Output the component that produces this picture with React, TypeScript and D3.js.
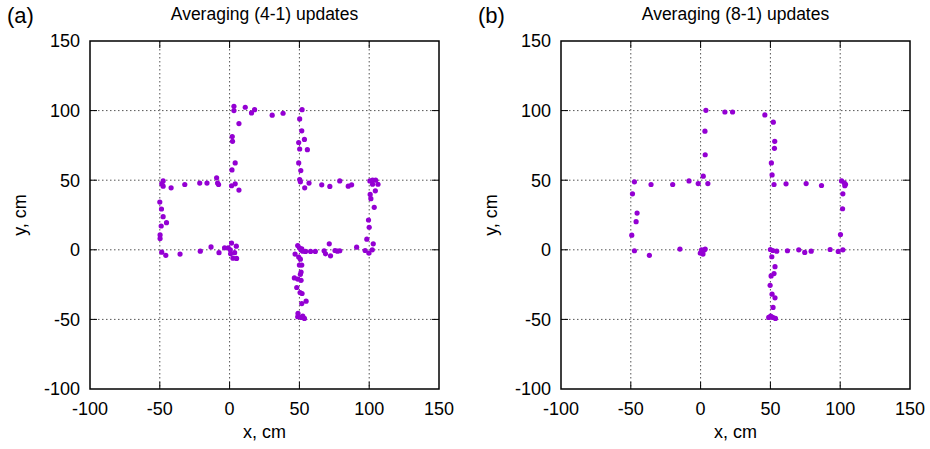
import React from 'react';
import * as d3 from 'd3';

// point clouds (cm)
const pointsA: [number, number][] = [
  [3.1, 103.1], [3.1, 100], [11.2, 102.4], [17.9, 100.7], [15.7, 98.3], [30.5, 96.7], [38.3, 98.1], [6.7, 90.7],
  [1.9, 81.4], [2.1, 77.9], [4, 62.4], [1.7, 57.4], [4, 47.4], [1.4, 46], [6.7, 42.9],
  [51.9, 100.7], [50.2, 94], [51.7, 85.5], [49.5, 77.1], [53.6, 79.3], [50.2, 72.4], [55.7, 71.9], [49.5, 62.4],
  [51, 56.9], [50.2, 50.5], [50.7, 48.8], [56.9, 47.9], [53.8, 44.5],
  [66, 46.7], [71.8, 45.5], [78.9, 49.5], [85, 45.7], [87.4, 46.7],
  [100.5, 49.5], [102.4, 50], [104.6, 50], [102.4, 47.1], [106.3, 47.1], [104.4, 42.4], [100.7, 39.8],
  [101.2, 36.7], [103.6, 30.5], [99.5, 21.4], [100, 16.2], [98.3, 7.6], [102.9, 4.3], [91, 1.9],
  [97.1, -0.5], [99.8, -2.4], [102.2, 0],
  [71.4, 4.3], [67.7, -0.7], [68.7, -2.9], [72.3, -4.3], [75.5, -0.5], [77.2, -1], [78.9, -0.7],
  [61.4, -1.2], [58, -1.2], [54.4, -1.2], [51.2, -0.2],
  [48.8, 3.1], [50, 1.4], [51.7, 0.7], [52.4, -1], [46.9, -3.1], [49.5, -5.2], [50.7, -6.7], [50, -11],
  [51.7, -11], [51.2, -16], [50.7, -17.6], [46.4, -20.2], [48.8, -21], [51.2, -21.9], [48.1, -27.1],
  [50.5, -30.7], [51.9, -31.4], [51.7, -38.6], [54.8, -36.9], [49, -45.7], [48.8, -48.1], [51.2, -48.6],
  [53.6, -49.3], [52.4, -47.6],
  [-47.6, 49.5], [-48.6, 47.4], [-47.6, 45.7], [-41.9, 44.5], [-32.1, 46.9], [-21.4, 47.9], [-16.2, 47.9],
  [-9.3, 51.7], [-8.6, 47.9], [-7.9, 46.9],
  [-50, 34.3], [-48.8, 29.3], [-47.6, 23.8], [-45.2, 19.5], [-49, 17.1], [-49.8, 10.7], [-49.8, 8.1],
  [-48.6, -1.7], [-45.7, -4], [-35.5, -3.1], [-21, -1], [-13.3, 2.1], [-7.6, -2.1], [-3.6, 1.4], [-1, 1.4],
  [1.4, 4.8], [4.8, 2.6], [0.5, 0], [0.7, -2.9], [3.6, -2.1], [2.4, -6], [5, -6.2],
];

const pointsB: [number, number][] = [
  [3.8, 100.2], [17.4, 99], [22.9, 99], [46, 96.9], [52.1, 91.7], [53.1, 77.9], [52.9, 72.9], [50.7, 62.4],
  [51.2, 53.8], [52.6, 46.9], [61.2, 47.4], [75.6, 47.6], [86.6, 46.2],
  [3.1, 85.2], [3.3, 68.3], [1.9, 52.9], [-1.7, 47.6], [5.2, 47.6], [-8.3, 49.5], [-20, 46.9], [-35.5, 46.9],
  [-47.4, 48.8],
  [-48.8, 40.2], [-45.5, 26.4], [-46.2, 20.2], [-49.3, 10.5], [-47.4, -0.7], [-36.7, -4], [-14.8, 0.5],
  [0.7, 0], [2.6, -0.2], [-0.2, -2.4], [1.7, -3.1], [3.3, 0.5],
  [101, 49.5], [102.9, 48.1], [103.8, 47.1], [103.3, 46], [101.9, 40.2], [101.7, 29.5], [100.2, 11],
  [101.9, 0], [98.6, -1.2], [92.8, 0.2], [79.2, -1], [74.6, -1.9], [70.3, 0], [62.2, -0.7],
  [50, 0.2], [51.7, -0.5], [54.5, -1], [51, -5], [53.3, -12.1], [52.6, -17.1], [50.5, -18.8], [49.8, -25.5],
  [51.2, -31.9], [53.3, -34.5], [51.9, -41.4], [50.2, -47.6], [51.7, -48.6], [53.6, -49.3], [48.8, -48.6],
];

const ticks = [-100, -50, 0, 50, 100, 150];
const titles = ['Averaging (4-1) updates', 'Averaging (8-1) updates'];
const tags = ['(a)', '(b)'];

const W = 930;
const H = 449;
const font = '"Liberation Sans", Arial, sans-serif';
const purple = '#9400d3';

function Panel({ left, points, title, tag }: { left: number; points: [number, number][]; title: string; tag: string }) {
  const x = d3.scaleLinear().domain([-100, 150]).range([left, left + 349]);
  const y = d3.scaleLinear().domain([-100, 150]).range([389, 41]);
  const [x0, x1] = x.range();
  const [y0, y1] = y.range();
  const cx = (x0 + x1) / 2;
  const inner = ticks.slice(1, -1);

  return (
    <g fontFamily={font} fill="#000">
      {/* grid */}
      {inner.map((t) => (
        <g key={'g' + t} stroke="#555" strokeWidth={1} strokeDasharray="1.5,2.5">
          <line x1={x(t)} x2={x(t)} y1={y1} y2={y0} />
          <line x1={x0} x2={x1} y1={y(t)} y2={y(t)} />
        </g>
      ))}
      {/* tick marks on all four sides */}
      {inner.map((t) => (
        <g key={'t' + t} stroke="#000" strokeWidth={1}>
          <line x1={x(t)} x2={x(t)} y1={y0} y2={y0 - 7} />
          <line x1={x(t)} x2={x(t)} y1={y1} y2={y1 + 7} />
          <line x1={x0} x2={x0 + 7} y1={y(t)} y2={y(t)} />
          <line x1={x1} x2={x1 - 7} y1={y(t)} y2={y(t)} />
        </g>
      ))}
      <rect x={x0} y={y1} width={x1 - x0} height={y0 - y1} fill="none" stroke="#000" strokeWidth={1.5} />
      {points.map(([px, py], i) => (
        <circle key={i} cx={x(px)} cy={y(py)} r={2.6} fill={purple} />
      ))}
      {ticks.map((t) => (
        <text key={'xl' + t} x={x(t)} y={415} fontSize={18} textAnchor="middle">{t}</text>
      ))}
      {ticks.map((t) => (
        <text key={'yl' + t} x={x0 - 10} y={y(t)} dy="0.36em" fontSize={18} textAnchor="end">{t}</text>
      ))}
      <text x={cx} y={20} fontSize={17.5} textAnchor="middle">{title}</text>
      <text x={cx} y={438} fontSize={18} textAnchor="middle">x, cm</text>
      <text transform={`translate(${left - 70},${(y0 + y1) / 2}) rotate(-90)`} fontSize={18} textAnchor="middle" dy="0.35em">y, cm</text>
      <text x={left - 83} y={23} fontSize={22}>{tag}</text>
    </g>
  );
}

export default function App() {
  return (
    <svg width={W} height={H} style={{ position: 'absolute', left: 0, top: 0, background: '#fff' }}>
      <Panel left={90} points={pointsA} title={titles[0]} tag={tags[0]} />
      <Panel left={561} points={pointsB} title={titles[1]} tag={tags[1]} />
    </svg>
  );
}
